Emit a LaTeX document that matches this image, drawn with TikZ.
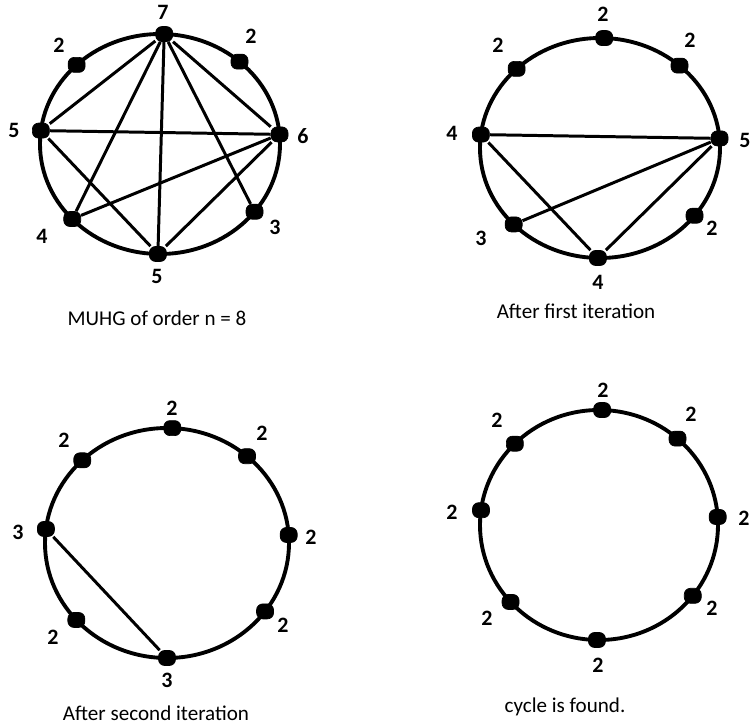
\documentclass[tikz,border=0pt]{standalone}
\usepackage{fontspec}
\setmainfont{Carlito}
\usepackage{tikz}
\usetikzlibrary{backgrounds,calc}

\begin{document}
\begin{tikzpicture}[
  x=0.02cm, y=-0.02cm,
  vtx/.style={draw, fill=black, rounded corners=3.5pt, inner sep=0pt,
              minimum width=0.34cm, minimum height=0.3cm},
  num/.style={font=\bfseries\fontsize{12.5}{13}\selectfont, inner sep=0pt},
  caption/.style={font=\fontsize{12}{14}\selectfont, inner sep=0pt},
  cyc/.style={draw, line width=2.2pt},
  chord/.style={draw, line width=1.7pt}
]
  \useasboundingbox (0,0) rectangle (751,723);

  % centres of the four rings (y grows downwards, so angles run clockwise)
  \coordinate (ca) at (160,144);
  \coordinate (cb) at (600,148);
  \coordinate (cc) at (167,543);
  \coordinate (cd) at (599,525);

  % --- MUHG of order 8 (top left) ----------------------------------
  \foreach \n/\ang/\lx/\ly/\t in {1/-88/163/12/7, 2/-48.5/251/36/2,
      3/-5/303/136/6, 4/38/275/227/3, 5/91/157/276/5,
      6/137/42/236/4, 7/-173/14/130/5, 8/-134/59/45/2}
  {
    \node[vtx] (a\n) at ($(ca)+(\ang:120 and 110)$) {};
    \node[num] (la\n) at (\lx,\ly) {\t};
  }
  \node[caption] (capa) at (157,318) {MUHG of order n = 8};

  % --- after first iteration (top right) ---------------------------
  \foreach \n/\ang/\lx/\ly/\t in {1/-88/603/14/2, 2/-48.5/690/40/2,
      3/-5/745/140/5, 4/38/712/228/2, 5/91/598/282/4,
      6/136/481/238/3, 7/-173/452/133/4, 8/-134/498/45/2}
  {
    \node[vtx] (b\n) at ($(cb)+(\ang:120 and 110)$) {};
    \node[num] (lb\n) at (\lx,\ly) {\t};
  }
  \node[caption] (capb) at (576,311) {After first iteration};

  % --- after second iteration (bottom left) ------------------------
  \foreach \n/\ang/\lx/\ly/\t in {1/-87.5/172/408/2, 2/-49/262/433/2,
      3/-4/311/537/2, 4/36.5/283/625/2, 5/90/167/680/3,
      6/138/53/637/2, 7/-173/18/532/3, 8/-134/64/440/2}
  {
    \node[vtx] (c\n) at ($(cc)+(\ang:122 and 115)$) {};
    \node[num] (lc\n) at (\lx,\ly) {\t};
  }
  \node[caption] (capc) at (156,713) {After second iteration};

  % --- cycle found (bottom right) ----------------------------------
  \foreach \n/\ang/\lx/\ly/\t in {1/-88.5/603/390/2, 2/-48.7/691/414/2,
      3/-4/744/518/2, 4/38/712/608/2, 5/91/598/665/2,
      6/138/487/618/2, 7/-172.6/452/512/2, 8/-135/497/420/2}
  {
    \node[vtx] (d\n) at ($(cd)+(\ang:119 and 115)$) {};
    \node[num] (ld\n) at (\lx,\ly) {\t};
  }
  \node[caption] (capd) at (565,707) {cycle is found.};

  % --- edges --------------------------------------------------------
  \begin{scope}[on background layer]
    \draw[cyc] (ca) ellipse [x radius=120, y radius=110];
    \draw[cyc] (cb) ellipse [x radius=120, y radius=110];
    \draw[cyc] (cc) ellipse [x radius=122, y radius=115];
    \draw[cyc] (cd) ellipse [x radius=119, y radius=115];

    \foreach \u/\v in {1/7, 1/6, 1/5, 1/4, 1/3, 7/3, 7/5, 3/6, 3/5}
      \draw[chord] (a\u) -- (a\v);
    \foreach \u/\v in {7/3, 7/5, 6/3, 3/5}
      \draw[chord] (b\u) -- (b\v);
    \draw[chord] (c7) -- (c5);
  \end{scope}
\end{tikzpicture}
\end{document}
